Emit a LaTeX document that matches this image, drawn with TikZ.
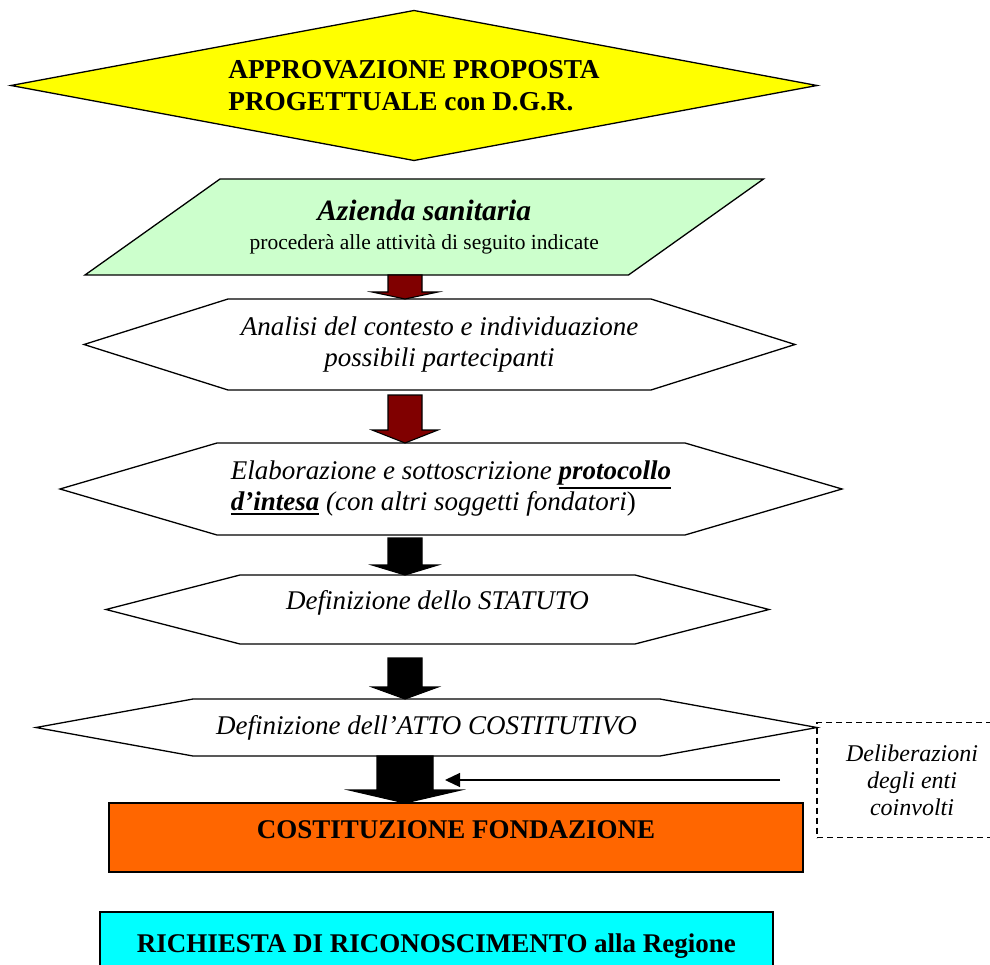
\documentclass[tikz,border=0pt]{standalone}
\usepackage{fontspec}
\setmainfont{Liberation Serif}
\usetikzlibrary{
  arrows.meta,
  calc,             % Calculations $...$
  backgrounds,      % Predefined layer named "background"
}
\newcommand{\fsz}[2]{\fontsize{#1}{#2}\selectfont}
\newcommand{\thickul}[1]{\vtop{\hbox{#1}\kern1.5pt\hrule height1.8pt}}
\def\arrowx{405pt}
% block arrow between two nodes: [colour]{from}{to}{gap}{half shaft}{half head}{head length}
\newcommand{\fatarrow}[7][arrowred]{
  \draw[fill=#1,line width=1.1pt,line join=miter]
    let \p1=($(#2.south)+(0,#4)$), \p2=(#3.north) in
    ({\arrowx-#5pt},\y1) -- ({\arrowx+#5pt},\y1) -- ({\arrowx+#5pt},{\y2+#7pt})
    -- ({\arrowx+#6pt},{\y2+#7pt}) -- (\arrowx,\y2) -- ({\arrowx-#6pt},{\y2+#7pt})
    -- ({\arrowx-#5pt},{\y2+#7pt}) -- cycle;
}
\definecolor{dgryellow}{RGB}{255,255,0}
\definecolor{aslgreen}{RGB}{204,255,204}
\definecolor{arrowred}{RGB}{128,0,0}
\definecolor{fondorange}{RGB}{255,102,0}
\definecolor{regcyan}{RGB}{0,255,255}
\tikzset{
  every node/.style={
    inner sep=0pt,
    outer sep=0pt
  },
  shape line/.style={
    line width=1.3pt
  },
  hexbox/.style={
    minimum height=#1,
    align=center,
    font=\itshape\fsz{27}{31}
  },
  stepbox/.style={
    draw,
    shape line,
    font=\bfseries\fsz{27}{32}
  },
  thin arrow/.style={
    line width=1.3pt,
    -{Triangle[length=15pt,width=14pt]}
  }
}
\begin{document}
\begin{tikzpicture}[x=1pt,y=-1pt]
\clip (0,0) rectangle (990,965);
\node[minimum width=806,minimum height=150,align=left,font=\bfseries\fsz{27.3}{32}] (dgr) at (414,85.5)
      {APPROVAZIONE PROPOSTA\\PROGETTUALE con D.G.R.};
\node[minimum width=543.5,minimum height=96,align=center,font=\fsz{21.5}{29}] (asl) at (424.25,227)
      {{\bfseries\itshape\fsz{29.5}{30}Azienda sanitaria}\\procederà alle attività di seguito indicate};
\begin{scope}[on background layer]
  \draw[shape line,fill=dgryellow] (dgr.west) -- (dgr.north) -- (dgr.east) -- (dgr.south) -- cycle;
  \draw[shape line,fill=aslgreen] ($(asl.north west)+(67.5,0)$) -- ($(asl.north east)+(67.5,0)$)
    -- ($(asl.south east)-(67.5,0)$) -- ($(asl.south west)-(67.5,0)$) -- cycle;
\end{scope}
\node[hexbox=91,minimum width=423] (ana) at (439.5,344.5)
      {Analisi del contesto e individuazione\\possibili partecipanti};
\node[hexbox=92,minimum width=468,align=left] (elab) at (451,489)
      {Elaborazione e sottoscrizione \thickul{\textbf{protocollo}}\\
       \thickul{\textbf{d’intesa}} (con altri soggetti fondatori\textup{)}};
\node[hexbox=69,minimum width=395,text depth=20pt] (stat) at (437.5,609.5)
      {Definizione dello STATUTO};
\node[hexbox=57,minimum width=467] (atto) at (426.5,727.5)
      {Definizione dell’ATTO COSTITUTIVO};
\foreach \n/\d in {ana/144,elab/157,stat/134,atto/157}
  \draw[shape line] (\n.north west) -- (\n.north east) -- ($(\n.east)+(\d,0)$)
    -- (\n.south east) -- (\n.south west) -- ($(\n.west)-(\d,0)$) -- cycle;
\node[stepbox,fill=fondorange,minimum width=694,minimum height=69,text depth=15pt] (fond) at (456,837.5)
      {COSTITUZIONE FONDAZIONE};
\node[stepbox,fill=regcyan,minimum width=673,minimum height=69] (reg) at (436.5,946.5)
      {RICHIESTA DI RICONOSCIMENTO alla Regione};
\node[draw,shape line,dash pattern=on 6pt off 4pt,minimum width=190,minimum height=115,
      align=center,font=\itshape\fsz{24}{27}] (delib) at (912,780)
      {Deliberazioni\\degli enti\\coinvolti};
\coordinate (join) at (445,780);
% block arrows
\fatarrow{asl}{ana}{0}{17}{33}{7}
\fatarrow{ana}{elab}{5}{17}{33}{13}
\fatarrow[black]{elab}{stat}{3}{17}{33}{10}
\fatarrow[black]{stat}{atto}{14}{17}{33}{12}
\fatarrow[black]{atto}{fond}{0}{28}{56}{13}
\draw[thin arrow,shorten <=37pt] (delib.west) -- (join);
\end{tikzpicture}
\end{document}
